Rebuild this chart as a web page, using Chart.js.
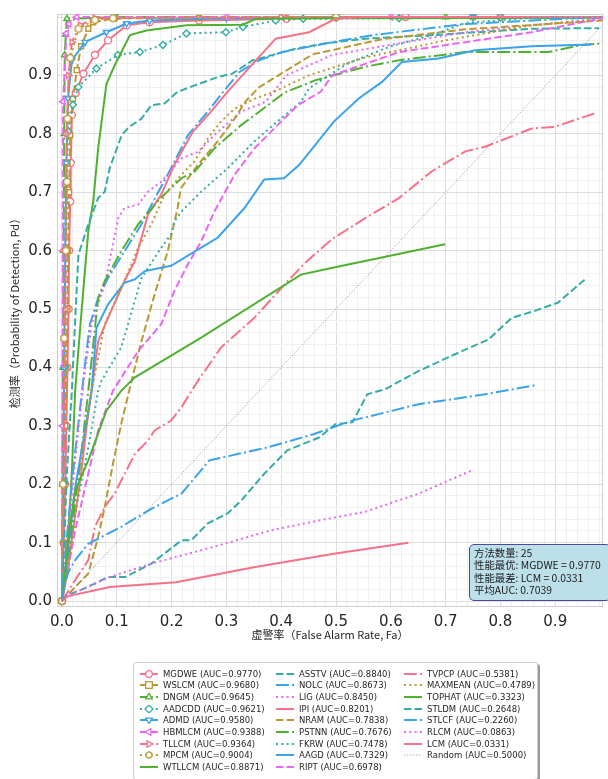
<!DOCTYPE html>
<html><head><meta charset="utf-8">
<script src="https://cdn.jsdelivr.net/npm/chart.js@4.4.0/dist/chart.umd.min.js"></script>
<style>
html,body{margin:0;padding:0;background:#fff;}
#wrap{position:relative;width:608px;height:779px;overflow:hidden;background:#fff;}
#c{position:absolute;left:0;top:0;}
#info{position:absolute;left:469px;top:544px;width:142px;height:57px;box-sizing:border-box;
  background:#bcdfea;border:1.5px solid #4b4b9a;border-radius:5px;padding:2px 0 0 4px;
  font-family:"Noto Sans CJK SC",sans-serif;font-size:10.4px;line-height:12.4px;color:#1a1a1a;white-space:nowrap;}
#legend{position:absolute;left:133px;top:662px;width:405px;height:118px;box-sizing:border-box;
  background:#fff;border:1px solid #cfcfcf;border-radius:3px;box-shadow:2px 2px 0 #9a9a9a;
  font-family:"DejaVu Sans",sans-serif;font-size:8.5px;color:#262626;}
.li{position:absolute;height:11px;line-height:11px;white-space:nowrap;}
.li svg{position:absolute;left:0;top:1px;}
.li span{position:absolute;left:23px;top:0;}
</style></head><body>
<div id="wrap"><canvas id="c" width="608" height="779"></canvas>
<div id="info"></div>
<div id="legend"></div></div>
<script>
// ---------- data (Fa, Pd) ----------
const methods = ["MGDWE","WSLCM","DNGM","AADCDD","ADMD","HBMLCM","TLLCM","MPCM","WTLLCM",
  "ASSTV","NOLC","LIG","IPI","NRAM","PSTNN","FKRW","AAGD","RIPT",
  "TVPCP","MAXMEAN","TOPHAT","STLDM","STLCF","RLCM","LCM"];
const aucs = [0.9770,0.9680,0.9645,0.9621,0.9580,0.9388,0.9364,0.9004,0.8871,
  0.8840,0.8673,0.8450,0.8201,0.7838,0.7676,0.7478,0.7329,0.6978,
  0.5381,0.4789,0.3323,0.2648,0.2260,0.0863,0.0331];

const MGDWE=[[0,0],[0.003,0.1],[0.006,0.2],[0.008,0.3],[0.01,0.4],[0.012,0.5],[0.013,0.6],[0.015,0.684],[0.016,0.75],[0.018,0.832],[0.025,0.87],[0.039,0.903],[0.06,0.935],[0.084,0.96],[0.118,0.986],[0.16,0.991],[0.25,0.994],[0.41,0.997],[0.5,1.0],[0.627,1.0],[0.8,1.0],[1.0,1.0]];
const WSLCM=[[0,0],[0.002,0.1],[0.004,0.2],[0.006,0.3],[0.008,0.4],[0.01,0.5],[0.011,0.6],[0.013,0.7],[0.015,0.798],[0.02,0.86],[0.027,0.909],[0.035,0.95],[0.048,0.98],[0.057,0.991],[0.096,0.998],[0.25,0.998],[0.5,1.0],[0.75,1.0],[1.0,1.0]];
const DNGM=[[0,0],[0.001,0.2],[0.002,0.4],[0.003,0.6],[0.004,0.8],[0.005,0.935],[0.007,0.97],[0.009,0.997],[0.1,1.0],[0.4,1.0],[0.7,1.0],[1.0,1.0]];
const AADCDD=[[0,0],[0.003,0.2],[0.005,0.4],[0.007,0.6],[0.009,0.72],[0.011,0.804],[0.02,0.85],[0.03,0.88],[0.063,0.912],[0.102,0.935],[0.142,0.94],[0.184,0.952],[0.227,0.972],[0.299,0.974],[0.33,0.983],[0.39,0.994],[0.44,0.997],[0.615,0.998],[0.8,0.999],[1.0,1.0]];
const ADMD=[[0,0],[0.002,0.2],[0.004,0.4],[0.006,0.6],[0.008,0.75],[0.011,0.861],[0.018,0.926],[0.042,0.957],[0.081,0.974],[0.118,0.989],[0.16,0.994],[0.3,0.998],[0.5,0.999],[0.75,1.0],[1.0,1.0]];
const HBMLCM=[[0,0],[0.001,0.3],[0.002,0.6],[0.002,0.855],[0.008,0.972],[0.013,0.988],[0.027,1.0],[0.3,1.0],[0.6,1.0],[1.0,1.0]];
const TLLCM=[[0,0],[0.003,0.2],[0.006,0.5],[0.009,0.8],[0.012,0.9],[0.018,0.957],[0.033,0.986],[0.06,0.998],[0.4,1.0],[1.0,1.0]];
const MPCM=[[0,0],[0.002,0.2],[0.004,0.45],[0.007,0.6],[0.009,0.718],[0.01,0.826],[0.015,0.93],[0.03,0.98],[0.06,0.995],[0.093,0.998],[0.5,1.0],[1.0,1.0]];
const WTLLCM=[[0,0],[0.006,0.05],[0.012,0.12],[0.018,0.22],[0.024,0.36],[0.036,0.5],[0.048,0.633],[0.057,0.684],[0.066,0.775],[0.081,0.885],[0.096,0.917],[0.124,0.969],[0.154,0.977],[0.227,0.986],[0.33,0.987],[0.354,0.997],[0.5,0.998],[1.0,0.999]];
const ASSTV=[[0,0],[0.004,0.1],[0.009,0.22],[0.014,0.3],[0.018,0.36],[0.024,0.48],[0.03,0.593],[0.048,0.645],[0.066,0.69],[0.078,0.701],[0.087,0.741],[0.109,0.798],[0.123,0.812],[0.145,0.826],[0.163,0.849],[0.187,0.852],[0.211,0.872],[0.251,0.886],[0.287,0.898],[0.311,0.903],[0.348,0.926],[0.427,0.946],[0.481,0.955],[0.554,0.963],[0.675,0.969],[0.857,0.98],[0.98,0.981]];
const NOLC=[[0,0],[0.008,0.1],[0.02,0.22],[0.033,0.33],[0.045,0.43],[0.051,0.474],[0.066,0.519],[0.084,0.553],[0.114,0.599],[0.145,0.645],[0.163,0.678],[0.199,0.741],[0.23,0.798],[0.266,0.838],[0.284,0.86],[0.324,0.906],[0.36,0.926],[0.402,0.94],[0.493,0.957],[0.566,0.969],[0.736,0.988],[0.918,0.997],[1.0,1.0]];
const LIG=[[0,0],[0.01,0.1],[0.025,0.25],[0.04,0.38],[0.054,0.474],[0.078,0.542],[0.103,0.656],[0.114,0.673],[0.139,0.679],[0.157,0.701],[0.181,0.718],[0.218,0.758],[0.248,0.769],[0.278,0.798],[0.327,0.838],[0.372,0.855],[0.409,0.9],[0.493,0.935],[0.615,0.955],[0.736,0.974],[0.857,0.986],[0.948,0.994],[1.0,1.0]];
const IPI=[[0,0],[0.01,0.05],[0.02,0.12],[0.035,0.22],[0.045,0.3],[0.054,0.36],[0.066,0.445],[0.084,0.485],[0.114,0.548],[0.133,0.582],[0.157,0.662],[0.181,0.696],[0.205,0.747],[0.239,0.804],[0.272,0.838],[0.302,0.872],[0.324,0.895],[0.39,0.963],[0.451,0.974],[0.499,0.997],[0.55,1.0],[1.0,1.0]];
const NRAM=[[0,0],[0.02,0.02],[0.048,0.047],[0.066,0.11],[0.078,0.161],[0.093,0.235],[0.108,0.303],[0.127,0.377],[0.145,0.445],[0.169,0.525],[0.193,0.599],[0.211,0.673],[0.217,0.707],[0.248,0.747],[0.284,0.787],[0.315,0.826],[0.336,0.857],[0.36,0.88],[0.457,0.936],[0.584,0.962],[0.736,0.979],[0.918,0.99],[1.0,0.995]];
const PSTNN=[[0,0],[0.01,0.06],[0.02,0.14],[0.035,0.25],[0.048,0.36],[0.066,0.519],[0.078,0.548],[0.108,0.599],[0.139,0.645],[0.18,0.69],[0.218,0.724],[0.242,0.735],[0.278,0.775],[0.327,0.815],[0.363,0.84],[0.405,0.87],[0.463,0.892],[0.554,0.915],[0.615,0.926],[0.736,0.94],[0.887,0.94],[0.948,0.952],[0.985,0.955]];
const FKRW=[[0,0],[0.012,0.06],[0.024,0.15],[0.048,0.263],[0.066,0.36],[0.072,0.377],[0.108,0.434],[0.145,0.553],[0.181,0.605],[0.199,0.628],[0.205,0.65],[0.218,0.667],[0.254,0.701],[0.302,0.741],[0.351,0.787],[0.393,0.821],[0.436,0.855],[0.451,0.878],[0.52,0.92],[0.6,0.95],[0.675,0.969],[0.736,0.99],[0.85,0.998],[1.0,1.0]];
const AAGD=[[0,0],[0.01,0.08],[0.025,0.2],[0.04,0.28],[0.054,0.36],[0.063,0.468],[0.084,0.508],[0.114,0.545],[0.133,0.551],[0.151,0.565],[0.199,0.574],[0.254,0.605],[0.284,0.622],[0.333,0.673],[0.369,0.722],[0.405,0.724],[0.433,0.747],[0.496,0.821],[0.542,0.861],[0.584,0.889],[0.62,0.923],[0.687,0.929],[0.754,0.943],[0.857,0.95],[0.966,0.953]];
const RIPT=[[0,0],[0.012,0.06],[0.024,0.121],[0.045,0.206],[0.066,0.292],[0.093,0.36],[0.139,0.428],[0.181,0.474],[0.205,0.531],[0.23,0.577],[0.254,0.616],[0.278,0.667],[0.315,0.73],[0.351,0.775],[0.387,0.809],[0.43,0.849],[0.472,0.872],[0.493,0.9],[0.615,0.94],[0.736,0.957],[0.857,0.974],[0.948,0.991],[1.0,1.0]];
const TVPCP=[[0,0],[0.024,0.036],[0.048,0.07],[0.06,0.127],[0.078,0.161],[0.096,0.184],[0.133,0.252],[0.157,0.275],[0.169,0.292],[0.199,0.309],[0.218,0.332],[0.248,0.377],[0.29,0.434],[0.351,0.485],[0.412,0.548],[0.447,0.582],[0.493,0.62],[0.554,0.656],[0.615,0.69],[0.675,0.736],[0.736,0.77],[0.772,0.778],[0.857,0.809],[0.899,0.812],[0.972,0.835]];
const MAXMEAN=[[0,0],[0.01,0.05],[0.025,0.15],[0.04,0.28],[0.054,0.36],[0.078,0.474],[0.103,0.525],[0.114,0.548],[0.139,0.605],[0.163,0.645],[0.187,0.696],[0.218,0.73],[0.242,0.753],[0.266,0.792],[0.29,0.821],[0.315,0.843],[0.351,0.86],[0.387,0.872],[0.45,0.9],[0.55,0.93],[0.7,0.96],[0.85,0.985],[0.97,0.995]];
const TOPHAT=[[0,0],[0.005,0.04],[0.011,0.104],[0.024,0.189],[0.048,0.241],[0.081,0.326],[0.108,0.36],[0.133,0.383],[0.254,0.451],[0.436,0.559],[0.496,0.571],[0.699,0.611]];
const STLDM=[[0,0],[0.01,0.01],[0.042,0.022],[0.084,0.041],[0.115,0.041],[0.163,0.064],[0.218,0.104],[0.236,0.104],[0.266,0.133],[0.302,0.15],[0.327,0.172],[0.369,0.218],[0.411,0.258],[0.469,0.28],[0.499,0.303],[0.53,0.306],[0.557,0.354],[0.59,0.363],[0.651,0.394],[0.711,0.42],[0.778,0.448],[0.821,0.485],[0.863,0.497],[0.905,0.511],[0.957,0.553]];
const STLCF=[[0,0],[0.005,0.03],[0.012,0.05],[0.024,0.07],[0.048,0.098],[0.108,0.127],[0.163,0.158],[0.218,0.184],[0.269,0.241],[0.375,0.263],[0.46,0.286],[0.529,0.309],[0.651,0.337],[0.772,0.354],[0.866,0.37]];
const RLCM=[[0,0],[0.01,0.01],[0.042,0.022],[0.087,0.041],[0.163,0.064],[0.278,0.093],[0.381,0.121],[0.469,0.138],[0.554,0.153],[0.651,0.184],[0.751,0.225]];
const LCM=[[0,0],[0.01,0.008],[0.087,0.024],[0.208,0.032],[0.35,0.058],[0.496,0.081],[0.632,0.1]];
const RANDOM=[[0,0],[1,1]];
const curves=[MGDWE,WSLCM,DNGM,AADCDD,ADMD,HBMLCM,TLLCM,MPCM,WTLLCM,ASSTV,NOLC,LIG,IPI,NRAM,PSTNN,FKRW,AAGD,RIPT,TVPCP,MAXMEAN,TOPHAT,STLDM,STLCF,RLCM,LCM];
const tickLabels=["0.0","0.1","0.2","0.3","0.4","0.5","0.6","0.7","0.8","0.9"];

// ---------- styles ----------
const palette=["#f77189","#bb9832","#50b131","#36ada4","#3ba3ec","#e866f4"];
const dashes=[[],[7.4,3.2],[12.8,3.2,2,3.2],[2,3.3]];
const markers=["circle","rect","triangle","rectRot","triangleDown","triangleLeft","triangleRight","hexagon"];

function hexCanvas(color){
  const c=document.createElement('canvas');c.width=10;c.height=10;
  const g=c.getContext('2d');g.beginPath();
  for(let k=0;k<6;k++){const a=Math.PI/6+k*Math.PI/3;const x=5+3.8*Math.cos(a),y=5+3.8*Math.sin(a);k?g.lineTo(x,y):g.moveTo(x,y);}
  g.closePath();g.fillStyle='#fff';g.fill();g.strokeStyle=color;g.lineWidth=1.4;g.stroke();return c;
}
function chartPointStyle(m,color){
  if(m==="triangleDown"||m==="triangleLeft"||m==="triangleRight") return 'triangle';
  if(m==="hexagon") return hexCanvas(color);
  return m;
}
function rot(m){return m==="triangleDown"?180:m==="triangleLeft"?-90:m==="triangleRight"?90:0;}

const datasets=curves.map((pts,i)=>{
  const color=palette[i%6], dash=dashes[i%4], m=i<8?markers[i]:null;
  return {
    label:methods[i],
    data:pts.map(p=>({x:p[0],y:p[1]})),
    showLine:true,borderColor:color,backgroundColor:color,borderWidth:2,borderDash:dash,
    tension:0,order:30-i,
    pointRadius:m?3.5:0,pointHoverRadius:0,
    pointStyle:m?chartPointStyle(m,color):'circle',pointRotation:m?rot(m):0,
    pointBackgroundColor:'#fff',pointBorderColor:color,pointBorderWidth:1.4
  };
});
datasets.push({label:'Random',data:RANDOM.map(p=>({x:p[0],y:p[1]})),showLine:true,
  borderColor:'rgba(120,120,120,0.75)',borderWidth:0.8,borderDash:[1.5,1.5],pointRadius:0,order:0});

const tickVals=[];for(let k=0;k<=50;k++)tickVals.push(Math.round(k*2)/100);
const isMajor=v=>Math.round(v*100)%10===0;
const gridColor=c=>isMajor(c.tick?c.tick.value:0)?'#dedede':'#f0f0f0';

const framePlugin={id:'frame',beforeDatasetsDraw(ch){const a=ch.chartArea,g=ch.ctx;g.save();g.strokeStyle='#cfcfcf';g.lineWidth=1;g.strokeRect(a.left+0.5,a.top+0.5,a.right-a.left-1,a.bottom-a.top-1);g.restore();}};

const axisFont={family:'DejaVu Sans',size:15};
new Chart(document.getElementById('c'),{
  type:'scatter',
  data:{datasets},
  options:{
    responsive:false,animation:false,devicePixelRatio:1,
    layout:{padding:{left:0,right:3,top:12,bottom:132}},
    plugins:{legend:{display:false},tooltip:{enabled:false}},
    scales:{
      x:{type:'linear',min:-0.0091,max:0.9873,
        afterBuildTicks:s=>{s.ticks=tickVals.filter(v=>v>=s.min&&v<=s.max).map(v=>({value:v}));},
        afterFit:s=>{s.height=40;},
        ticks:{autoSkip:false,maxRotation:0,padding:6,color:'#262626',font:axisFont,
          callback:v=>isMajor(v)?tickLabels[Math.round(v*10)]:''},
        grid:{color:gridColor,drawTicks:false,lineWidth:1},border:{display:false},
        title:{display:true,text:'虚警率（False Alarm Rate, Fa）',color:'#262626',
          font:{family:'Noto Sans CJK SC',size:11},padding:{top:0,bottom:6}}},
      y:{type:'linear',min:-0.0102,max:1.0052,
        afterBuildTicks:s=>{s.ticks=tickVals.filter(v=>v>=s.min&&v<=s.max).map(v=>({value:v}));},
        afterFit:s=>{s.width=57;},
        ticks:{autoSkip:false,padding:5,color:'#262626',font:axisFont,
          callback:v=>isMajor(v)&&v<0.95?tickLabels[Math.round(v*10)]:''},
        grid:{color:gridColor,drawTicks:false,lineWidth:1},border:{display:false},
        title:{display:true,text:'检测率（Probability of Detection, Pd）',color:'#262626',
          font:{family:'Noto Sans CJK SC',size:11},padding:{top:8,bottom:0}}}
    }
  },
  plugins:[framePlugin]
});

// ---------- info box ----------
let best=0,worst=0,sum=0;aucs.forEach((a,i)=>{if(a>aucs[best])best=i;if(a<aucs[worst])worst=i;sum+=a;});
document.getElementById('info').innerHTML=
  `方法数量: ${methods.length}<br>性能最优: ${methods[best]} = ${aucs[best].toFixed(4)}<br>性能最差: ${methods[worst]} = ${aucs[worst].toFixed(4)}<br>平均AUC: ${(sum/aucs.length).toFixed(4)}`;

// ---------- legend ----------
function markerSvg(m,color){
  const cx=9,cy=4,r=3.3;const st=`fill="#fff" stroke="${color}" stroke-width="1.3"`;
  const tri=(a)=>{const p=[];for(let k=0;k<3;k++){const t=(a+k*120)*Math.PI/180;p.push((cx+r*1.15*Math.sin(t)).toFixed(2)+','+(cy-r*1.15*Math.cos(t)).toFixed(2));}return `<polygon points="${p.join(' ')}" ${st}/>`;};
  switch(m){
    case 'circle':return `<circle cx="${cx}" cy="${cy}" r="${r}" ${st}/>`;
    case 'rect':return `<rect x="${cx-r}" y="${cy-r}" width="${2*r}" height="${2*r}" ${st}/>`;
    case 'rectRot':return `<polygon points="${cx},${cy-r*1.2} ${cx+r*1.2},${cy} ${cx},${cy+r*1.2} ${cx-r*1.2},${cy}" ${st}/>`;
    case 'triangle':return tri(0);
    case 'triangleDown':return tri(180);
    case 'triangleLeft':return tri(-90);
    case 'triangleRight':return tri(90);
    case 'hexagon':{const p=[];for(let k=0;k<6;k++){const a=Math.PI/6+k*Math.PI/3;p.push((cx+r*Math.cos(a)).toFixed(2)+','+(cy+r*Math.sin(a)).toFixed(2));}return `<polygon points="${p.join(' ')}" ${st}/>`;}
  }
  return '';
}
const lg=document.getElementById('legend');
const colX=[6,142,270], rowY=[5.5,17.2,28.9,40.6,52.3,64,75.7,87.4,99.1];
const entries=methods.map((n,i)=>({name:`${n} (AUC=${aucs[i].toFixed(4)})`,color:palette[i%6],dash:dashes[i%4],m:i<8?markers[i]:null,w:2}));
entries.push({name:'Random (AUC=0.5000)',color:'rgba(120,120,120,0.75)',dash:[1.5,1.5],m:null,w:0.8});
entries.forEach((e,i)=>{
  const col=Math.floor(i/9),row=i%9;
  const d=document.createElement('div');d.className='li';d.style.left=colX[col]+'px';d.style.top=rowY[row]+'px';
  d.innerHTML=`<svg width="18" height="8"><line x1="0" y1="4" x2="18" y2="4" stroke="${e.color}" stroke-width="${e.w}" stroke-dasharray="${e.dash.join(',')}"/>${e.m?markerSvg(e.m,e.color):''}</svg><span>${e.name}</span>`;
  lg.appendChild(d);
});
</script>
</body></html>
